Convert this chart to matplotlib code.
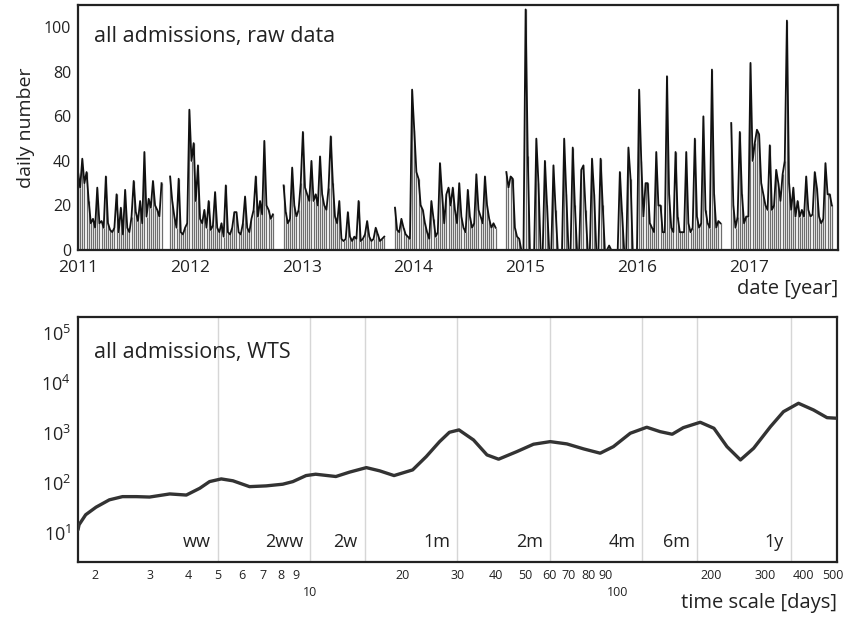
import matplotlib
matplotlib.use("Agg")
import matplotlib.pyplot as plt
import matplotlib.transforms as mtransforms
import pandas as pd
import numpy as np

plt.rcParams['font.family'] = ['Open Sans', 'DejaVu Sans']
plt.rcParams['mathtext.fontset'] = 'custom'
plt.rcParams['mathtext.rm'] = 'Open Sans'
plt.rcParams['mathtext.it'] = 'Open Sans:italic'
plt.rcParams['mathtext.bf'] = 'Open Sans:bold'

# ---------------- data: raw daily numbers (weekly readings per data segment) -------------
seg1_start = '2011-01-01'
seg1_vals = [35, 28, 41, 30, 35, 22, 12, 14, 10, 28, 12, 13, 10, 33, 12, 9, 8, 10, 25, 8,
             19, 7, 27, 10, 8, 15, 31, 17, 13, 22, 12, 44, 15, 23, 19, 31, 20, 18, 15, 30]
seg2_start = '2011-10-29'
seg2_vals = [33, 22, 15, 10, 32, 8, 7, 10, 12, 63, 40, 48, 22, 38, 14, 12, 18, 10, 22, 9,
             11, 26, 10, 8, 12, 6, 29, 8, 7, 10, 17, 17, 8, 7, 12, 24, 10, 8, 14, 18,
             33, 15, 22, 16, 49, 20, 18, 14, 16]
seg3_start = '2012-11-03'
seg3_vals = [29, 17, 12, 14, 37, 20, 15, 18, 30, 53, 28, 25, 22, 40, 22, 25, 20, 42, 25, 20,
             18, 28, 51, 30, 15, 12, 22, 5, 4, 5, 17, 6, 4, 6, 5, 22, 4, 5, 7, 13,
             6, 4, 5, 10, 7, 4, 5, 6]
seg4_start = '2013-11-02'
seg4_vals = [19, 9, 8, 14, 10, 7, 6, 5, 72, 54, 35, 32, 20, 18, 12, 8, 5, 22, 14, 6,
             8, 39, 25, 12, 25, 28, 20, 28, 18, 12, 30, 15, 10, 8, 27, 15, 10, 12, 34, 18,
             15, 12, 33, 20, 14, 10, 12, 10]
seg5_start = '2014-11-01'
seg5_vals = [35, 28, 33, 32, 10, 6, 5, 0, 0, 108, 42, 0, 0, 0, 50, 30, 0, 0, 40, 20,
             0, 0, 38, 18, 0, 0, 0, 50, 25, 0, 0, 46, 20, 0, 0, 36, 38, 18, 0, 0,
             41, 25, 0, 0, 41, 20, 0, 0, 2, 0, 0, 0, 0,
             35, 17, 0, 0, 46, 32, 0, 0, 0, 72, 40, 15, 30, 30, 12, 10, 8, 44, 20, 20,
             8, 8, 78, 25, 10, 8, 44, 15, 8, 8, 8, 44, 12, 8, 10, 50, 15, 10, 12, 60,
             18, 12, 10, 81, 25, 10, 13, 12]
seg6_start = '2016-11-05'
seg6_vals = [57, 20, 10, 15, 53, 25, 12, 15, 15, 84, 40, 48, 54, 52, 30, 25, 20, 18, 47, 18,
             20, 36, 30, 22, 34, 40, 103, 30, 18, 28, 15, 22, 15, 18, 15, 33, 18, 15, 16, 35,
             28, 15, 12, 14, 39, 25, 25, 20]
year_ticks = [2011, 2012, 2013, 2014, 2015, 2016, 2017]

# ---------------- data: wavelet time spectrum -------------
wts_scale = [1.756, 1.77, 1.86, 2.01, 2.22, 2.45, 2.72, 3.0, 3.49, 3.95, 4.37, 4.7, 5.13,
             5.6, 6.34, 7.18, 8.13, 8.77, 9.68, 10.4, 12.1, 13.4, 15.2, 16.8, 18.7, 21.5,
             23.8, 26.3, 28.3, 30.4, 33.9, 37.5, 40.9, 46.9, 53.1, 60.2, 68.2, 77.3, 87.5,
             96.6, 109.6, 124, 137, 150, 163, 185, 205, 226, 250, 276, 313, 345, 386, 432,
             478, 515]
wts_power = [11.5, 14.5, 23, 32.6, 45.7, 53, 53, 52, 60, 57, 78, 106, 120,
             110, 84, 87, 94, 106, 140, 149, 134, 164, 202, 174, 140, 182,
             336, 670, 1030, 1150, 724, 363, 298, 423, 594, 670, 603, 479, 393,
             532, 986, 1300, 1062, 942, 1276, 1636, 1240, 532, 288, 494, 1336, 2667, 3926, 2884,
             2023, 1968]
period_lines = [5, 10, 15, 30, 60, 120, 180, 365]
period_labels = ['ww', '2ww', '2w', '1m', '2m', '4m', '6m', '1y']
scale_ticks = [2, 3, 4, 5, 6, 7, 8, 9, 10, 20, 30, 40, 50, 60, 70, 80, 90, 100, 200, 300, 400, 500]
power_ticks = [1e1, 1e2, 1e3, 1e4, 1e5]

W, H = 849, 617
fig = plt.figure(figsize=(W / 100, H / 100), dpi=100)
ax1 = fig.add_axes([78 / W, 1 - 250 / H, 760 / W, 245 / H])
ax2 = fig.add_axes([78 / W, 1 - 562 / H, 759 / W, 245 / H])

TXT = '#222222'

# ---------------- top panel -------------
segments = [(seg1_start, seg1_vals), (seg2_start, seg2_vals), (seg3_start, seg3_vals),
            (seg4_start, seg4_vals), (seg5_start, seg5_vals), (seg6_start, seg6_vals)]
for start, vals in segments:
    d = pd.date_range(start, periods=len(vals), freq='7D')
    ax1.vlines(d, 0, vals, color='#6e6e6e', lw=0.9)
    ax1.plot(d, vals, color='#111111', lw=1.3)

ax1.set_xlim(pd.Timestamp('2011-01-01'), pd.Timestamp('2017-10-20'))
ax1.set_ylim(0, 110)
ax1.set_yticks([0, 20, 40, 60, 80, 100])
ax1.set_xticks(pd.to_datetime([f'{y}-01-01' for y in year_ticks]))
ax1.set_xticklabels([str(y) for y in year_ticks])
ax1.tick_params(length=0, colors=TXT)
ax1.tick_params(axis='x', labelsize=12.5, pad=7.5)
ax1.tick_params(axis='y', labelsize=11.5, pad=5)
ax1.set_ylabel('daily number', fontsize=14, color=TXT, labelpad=6)
ax1.text(0.021, 0.87, 'all admissions, raw data', transform=ax1.transAxes,
         fontsize=15.5, va='center', ha='left', color=TXT)
fig.text(838 / W, 1 - 289 / H, 'date [year]', fontsize=14.5, ha='right', va='center',
         color=TXT)

# ---------------- bottom panel -------------
for p in period_lines:
    ax2.axvline(p, color='#d6d6d6', lw=1.0, zorder=1)
for p, lab in zip(period_lines, period_labels):
    ax2.annotate(lab, xy=(p, 0.08), xycoords=('data', 'axes fraction'),
                 xytext=(-5, 0), textcoords='offset points',
                 ha='right', va='center', fontsize=13, color=TXT)
ax2.plot(wts_scale, wts_power, color='#333333', lw=2.4, solid_capstyle='round',
         solid_joinstyle='round', zorder=3)
ax2.set_xscale('log')
ax2.set_yscale('log')
ax2.set_xlim(1.756, 515)
ax2.set_ylim(2.6, 2.1e5)
ax2.minorticks_off()
ax2.set_xticks(scale_ticks)
ax2.set_xticklabels([str(t) for t in scale_ticks])
ax2.set_yticks(power_ticks)
ax2.set_yticklabels([r'$\mathregular{10^{%d}}$' % int(np.log10(t)) for t in power_ticks])
ax2.tick_params(length=0, colors=TXT)
ax2.tick_params(axis='x', labelsize=9, pad=5)
ax2.tick_params(axis='y', labelsize=13, pad=5)
ax2.text(0.021, 0.857, 'all admissions, WTS', transform=ax2.transAxes,
         fontsize=15.5, va='center', ha='left', color=TXT)
fig.text(837 / W, 1 - 603 / H, 'time scale [days]', fontsize=14.5, ha='right', va='center',
         color=TXT)

for ax in (ax1, ax2):
    for s in ax.spines.values():
        s.set_linewidth(1.6)
        s.set_color('#222222')

# 10 and 100 sit on a second row; nudge the crowded 70/90 labels apart slightly
fig.canvas.draw()
shifts = {70: (-1.5, 0), 90: (2.0, 0), 10: (0, -17), 100: (0, -17)}
for tick, loc in zip(ax2.xaxis.get_major_ticks(), ax2.get_xticks()):
    key = int(round(loc))
    if key in shifts:
        dx, dy = shifts[key]
        lbl = tick.label1
        lbl.set_transform(lbl.get_transform() +
                          mtransforms.ScaledTranslation(dx / 100, dy / 100,
                                                        fig.dpi_scale_trans))

fig.savefig('out.png', dpi=100)
